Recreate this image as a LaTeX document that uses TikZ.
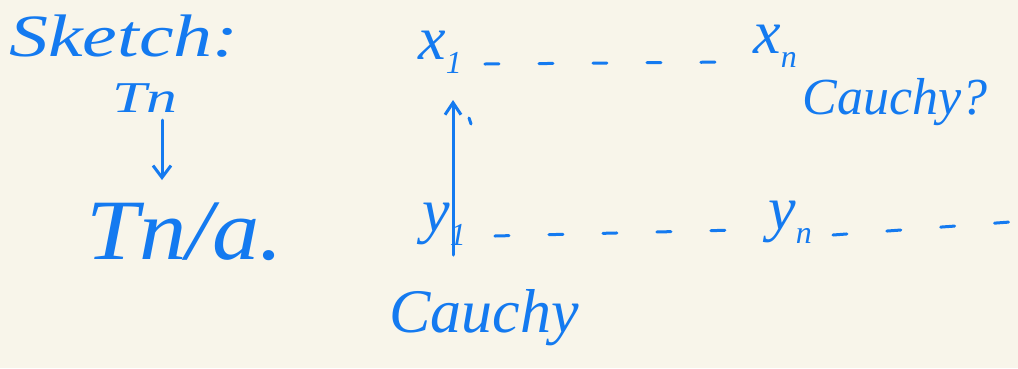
\documentclass[tikz,border=0pt]{standalone}
\usepackage{fontspec}
\setmainfont{Liberation Serif}
\usetikzlibrary{arrows.meta}
\definecolor{paper}{RGB}{248,245,234}
\definecolor{ink}{RGB}{20,122,240}
\newcommand{\sbx}[1]{\raisebox{-0.22em}{\fontsize{32}{34}\selectfont #1}}
\tikzset{
  hw/.style={text=ink, font=\itshape, inner sep=1pt},
  dashline/.style={draw=ink, line width=3pt, line cap=round, dash pattern=on 14pt off 40pt},
  pen/.style={draw=ink, line width=3pt, line cap=round}
}
\begin{document}
\begin{tikzpicture}[x=1pt,y=-1pt]
\fill[paper] (0,0) rectangle (1018,368);
\useasboundingbox (0,0) rectangle (1018,368);
\node[hw, font=\itshape\fontsize{60}{62}\selectfont, xscale=1.3] (sk) at (124,36) {Sketch:};
\node[hw, font=\itshape\fontsize{44}{46}\selectfont, xscale=1.4] (tn) at (145,98) {Tn};
\node[hw, font=\itshape\fontsize{86}{88}\selectfont, xscale=1.1] (tq) at (185,232) {Tn/a.};
\draw[pen, -{Straight Barb[length=12pt,width=18pt]}] (162,120) -- (162,180);
\node[hw, font=\itshape\fontsize{62}{64}\selectfont] (x1) at (440,52) {x\sbx{1}};
\node[hw, font=\itshape\fontsize{62}{64}\selectfont] (xn) at (775,46) {x\sbx{n}};
\node[hw, font=\itshape\fontsize{52}{54}\selectfont] (cq) at (895,102) {Cauchy?};
\node[hw, font=\itshape\fontsize{62}{64}\selectfont] (y1) at (444,224) {y\sbx{1}};
\node[hw, font=\itshape\fontsize{62}{64}\selectfont] (yn) at (790,222) {y\sbx{n}};
\node[hw, font=\itshape\fontsize{62}{64}\selectfont] (c) at (484,318) {Cauchy};
\coordinate (rend) at (1010,222);
\draw[dashline] ([xshift=22pt,yshift=-12pt]x1.east) -- ([xshift=-20pt,yshift=-16pt]xn.west);
\draw[dashline] ([xshift=28pt,yshift=-12pt]y1.east) -- ([xshift=-30pt,yshift=-8pt]yn.west);
\draw[dashline] ([xshift=20pt,yshift=-13pt]yn.east) -- (rend);
\draw[pen, -{Straight Barb[length=12pt,width=16pt]}] (453,255) -- (453,100);
\draw[pen] (469,118) -- (471,124);
\end{tikzpicture}
\end{document}
